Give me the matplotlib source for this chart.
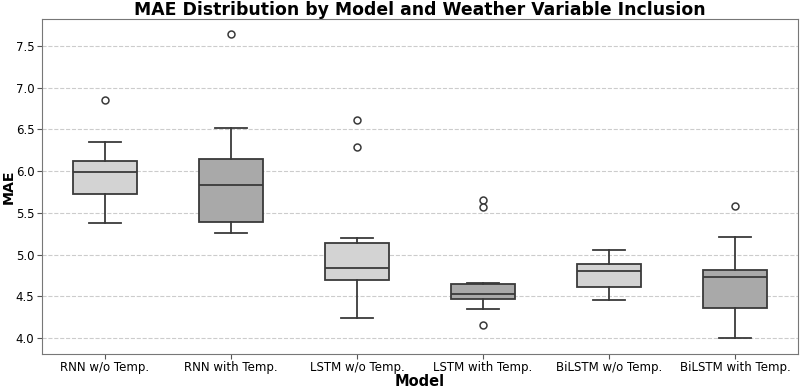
import matplotlib
matplotlib.use("Agg")
import matplotlib.pyplot as plt

# box statistics
models = ["RNN w/o Temp.", "RNN with Temp.", "LSTM w/o Temp.",
          "LSTM with Temp.", "BiLSTM w/o Temp.", "BiLSTM with Temp."]
med = [5.995, 5.835, 4.845, 4.534, 4.805, 4.730]
q1 = [5.731, 5.392, 4.694, 4.466, 4.617, 4.362]
q3 = [6.119, 6.147, 5.141, 4.646, 4.889, 4.817]
whislo = [5.380, 5.257, 4.243, 4.354, 4.462, 3.996]
whishi = [6.354, 6.520, 5.200, 4.665, 5.053, 5.209]
fliers = [[6.85], [7.644], [6.618, 6.294], [5.656, 5.568, 4.159], [], [5.584]]
colors = ["#d3d3d3", "#a9a9a9"] * 3

stats = []
for i in range(len(models)):
    stats.append({"med": med[i], "q1": q1[i], "q3": q3[i],
                  "whislo": whislo[i], "whishi": whishi[i],
                  "fliers": fliers[i], "label": models[i]})

fig, ax = plt.subplots(figsize=(8, 3.88), dpi=100)
fig.subplots_adjust(left=0.0525, right=0.9975, top=0.951, bottom=0.088)

edge = "#3a3a3a"
bp = ax.bxp(stats, positions=range(len(models)), widths=0.51, patch_artist=True,
            boxprops=dict(edgecolor=edge, linewidth=1.3),
            medianprops=dict(color=edge, linewidth=1.3),
            whiskerprops=dict(color=edge, linewidth=1.3),
            capprops=dict(color=edge, linewidth=1.3),
            flierprops=dict(marker="o", markerfacecolor="white",
                            markeredgecolor=edge, markersize=5, markeredgewidth=1.1))
for patch, c in zip(bp["boxes"], colors):
    patch.set_facecolor(c)

ax.set_xlim(-0.5, len(models) - 0.5)
ax.set_ylim(3.812, 7.823)
ax.set_yticks([4.0, 4.5, 5.0, 5.5, 6.0, 6.5, 7.0, 7.5])
ax.yaxis.grid(True, linestyle="--", color="#cccccc", linewidth=0.8)
ax.set_axisbelow(True)
ax.tick_params(labelsize=8.5, color="#555555", pad=2)
for s in ax.spines.values():
    s.set_color("#777777")

ax.set_title("MAE Distribution by Model and Weather Variable Inclusion",
             fontsize=12.4, fontweight="bold", pad=3)
ax.set_xlabel("Model", fontsize=10.5, fontweight="bold", labelpad=0)
ax.set_ylabel("MAE", fontsize=10.2, fontweight="bold", labelpad=0)

fig.savefig("out.png", dpi=100)
